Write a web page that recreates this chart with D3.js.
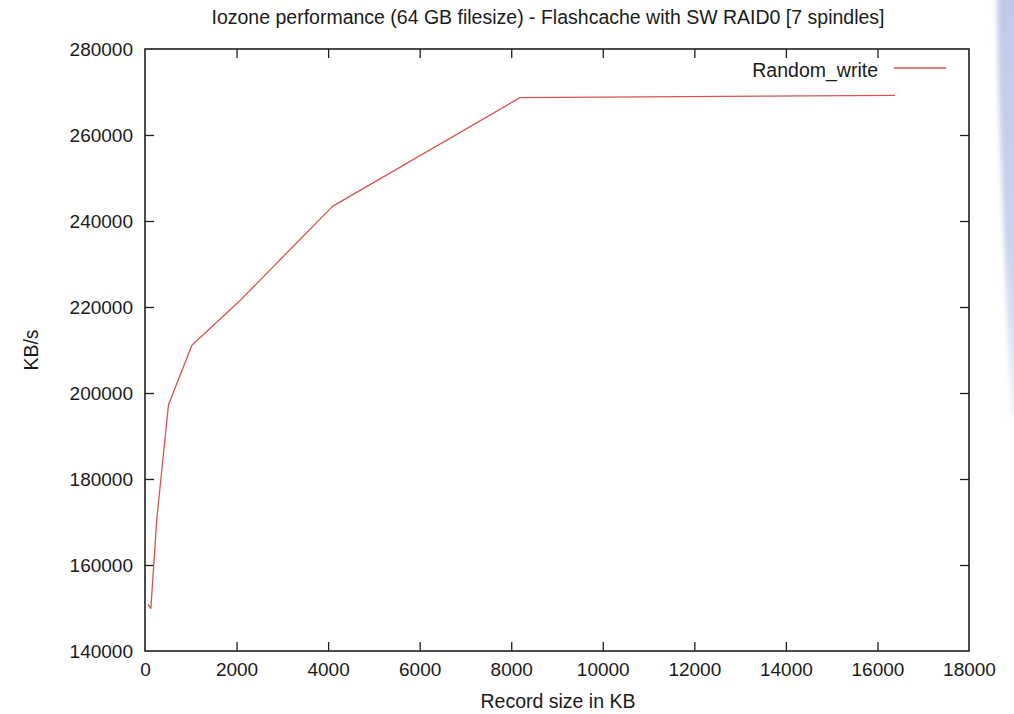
<!DOCTYPE html>
<html>
<head>
<meta charset="utf-8">
<script src="https://cdn.jsdelivr.net/npm/d3@7"></script>
<style>
  html, body { margin: 0; padding: 0; background: #fff; }
  svg { display: block; }
  text { font-family: "Liberation Sans", Arial, Helvetica, sans-serif; fill: #1a1a1a; }
</style>
</head>
<body>
<svg id="chart" width="1014" height="714"></svg>
<script>
// Iozone random write throughput by record size
const recordSizes = [64, 128, 256, 512, 1024, 2048, 4096, 8192, 16384];
const randomWrite = [150900, 149900, 170500, 197200, 211100, 221200, 243400, 268700, 269200];
const xTicks = [0, 2000, 4000, 6000, 8000, 10000, 12000, 14000, 16000, 18000];
const yTicks = [140000, 160000, 180000, 200000, 220000, 240000, 260000, 280000];
const seriesName = "Random_write";
const titleText = "Iozone performance (64 GB filesize) - Flashcache with SW RAID0 [7 spindles]";

const svg = d3.select("#chart");
const m = { left: 145, right: 969, top: 49, bottom: 651 };

// soft bluish band along the right edge
const defs = svg.append("defs");
defs.append("filter").attr("id", "soft").attr("x", "-50%").attr("y", "-10%")
  .attr("width", "200%").attr("height", "120%")
  .append("feGaussianBlur").attr("stdDeviation", 2.5);
const grad = defs.append("linearGradient").attr("id", "bandGrad")
  .attr("x1", 0).attr("y1", 0).attr("x2", 0).attr("y2", 1);
grad.append("stop").attr("offset", "0%").attr("stop-color", "#c0c9e7");
grad.append("stop").attr("offset", "60%").attr("stop-color", "#cad2eb");
grad.append("stop").attr("offset", "100%").attr("stop-color", "#edf0f9");
svg.append("path")
  .attr("d", "M997,-10 L1020,-10 L1020,420 L1012,414 C1009,360 1007,320 1005,260 C1003,200 1000,150 998,60 Z")
  .attr("fill", "url(#bandGrad)")
  .attr("filter", "url(#soft)");

const x = d3.scaleLinear().domain([0, 18000]).range([m.left, m.right]);
const y = d3.scaleLinear().domain([140000, 280000]).range([m.bottom, m.top]);

const tickLen = 9;
const axisColor = "#1e1e1e";

// bottom, top, left and right axes (ticks inward)
const axBottom = svg.append("g").attr("transform", `translate(0,${m.bottom})`)
  .call(d3.axisBottom(x).tickValues(xTicks).tickFormat(d3.format("d")).tickSizeInner(-tickLen).tickSizeOuter(0).tickPadding(12));
const axTop = svg.append("g").attr("transform", `translate(0,${m.top})`)
  .call(d3.axisTop(x).tickValues(xTicks).tickFormat("").tickSizeInner(-tickLen).tickSizeOuter(0));
const axLeft = svg.append("g").attr("transform", `translate(${m.left},0)`)
  .call(d3.axisLeft(y).tickValues(yTicks).tickFormat(d3.format("d")).tickSizeInner(-tickLen).tickSizeOuter(0).tickPadding(12));
const axRight = svg.append("g").attr("transform", `translate(${m.right},0)`)
  .call(d3.axisRight(y).tickValues(yTicks).tickFormat("").tickSizeInner(-tickLen).tickSizeOuter(0));

[axBottom, axTop, axLeft, axRight].forEach(g => {
  g.select(".domain").remove();
  g.selectAll(".tick line").attr("stroke", axisColor).attr("stroke-width", 1.3);
  g.selectAll(".tick text").attr("font-size", 19).attr("fill", "#1a1a1a")
    .style("font-family", '"Liberation Sans", Arial, sans-serif');
});
// end ticks sit on the frame, drop their lines
axBottom.selectAll(".tick").filter(d => d === 0 || d === 18000).select("line").remove();
axTop.selectAll(".tick").filter(d => d === 0 || d === 18000).select("line").remove();
axLeft.selectAll(".tick").filter(d => d === 140000 || d === 280000).select("line").remove();
axRight.selectAll(".tick").filter(d => d === 140000 || d === 280000).select("line").remove();
axBottom.selectAll(".tick text").attr("dy", "0.71em");
axLeft.selectAll(".tick text").attr("dy", "0.35em");

// frame
svg.append("rect")
  .attr("x", m.left).attr("y", m.top)
  .attr("width", m.right - m.left).attr("height", m.bottom - m.top)
  .attr("fill", "none").attr("stroke", axisColor).attr("stroke-width", 1.6);

// series line
const line = d3.line().x((d, i) => x(recordSizes[i])).y(d => y(d));
svg.append("path")
  .datum(randomWrite)
  .attr("d", line)
  .attr("fill", "none")
  .attr("stroke", "#d9534f")
  .attr("stroke-width", 1.3)
  .attr("stroke-linejoin", "round");

// legend
svg.append("text").attr("x", 878).attr("y", 70).attr("dy", "0.35em")
  .attr("text-anchor", "end").attr("font-size", 19.5).text(seriesName);
svg.append("line").attr("x1", 894).attr("x2", 946).attr("y1", 68).attr("y2", 68)
  .attr("stroke", "#d9534f").attr("stroke-width", 1.3);

// title and axis labels
svg.append("text").attr("x", 548).attr("y", 17).attr("dy", "0.35em")
  .attr("text-anchor", "middle").attr("font-size", 19.5).text(titleText);
svg.append("text").attr("x", 558).attr("y", 701).attr("dy", "0.35em")
  .attr("text-anchor", "middle").attr("font-size", 19.5).text("Record size in KB");
svg.append("text").attr("transform", "translate(31,350) rotate(-90)").attr("dy", "0.35em")
  .attr("text-anchor", "middle").attr("font-size", 19.5).text("KB/s");
</script>
</body>
</html>
